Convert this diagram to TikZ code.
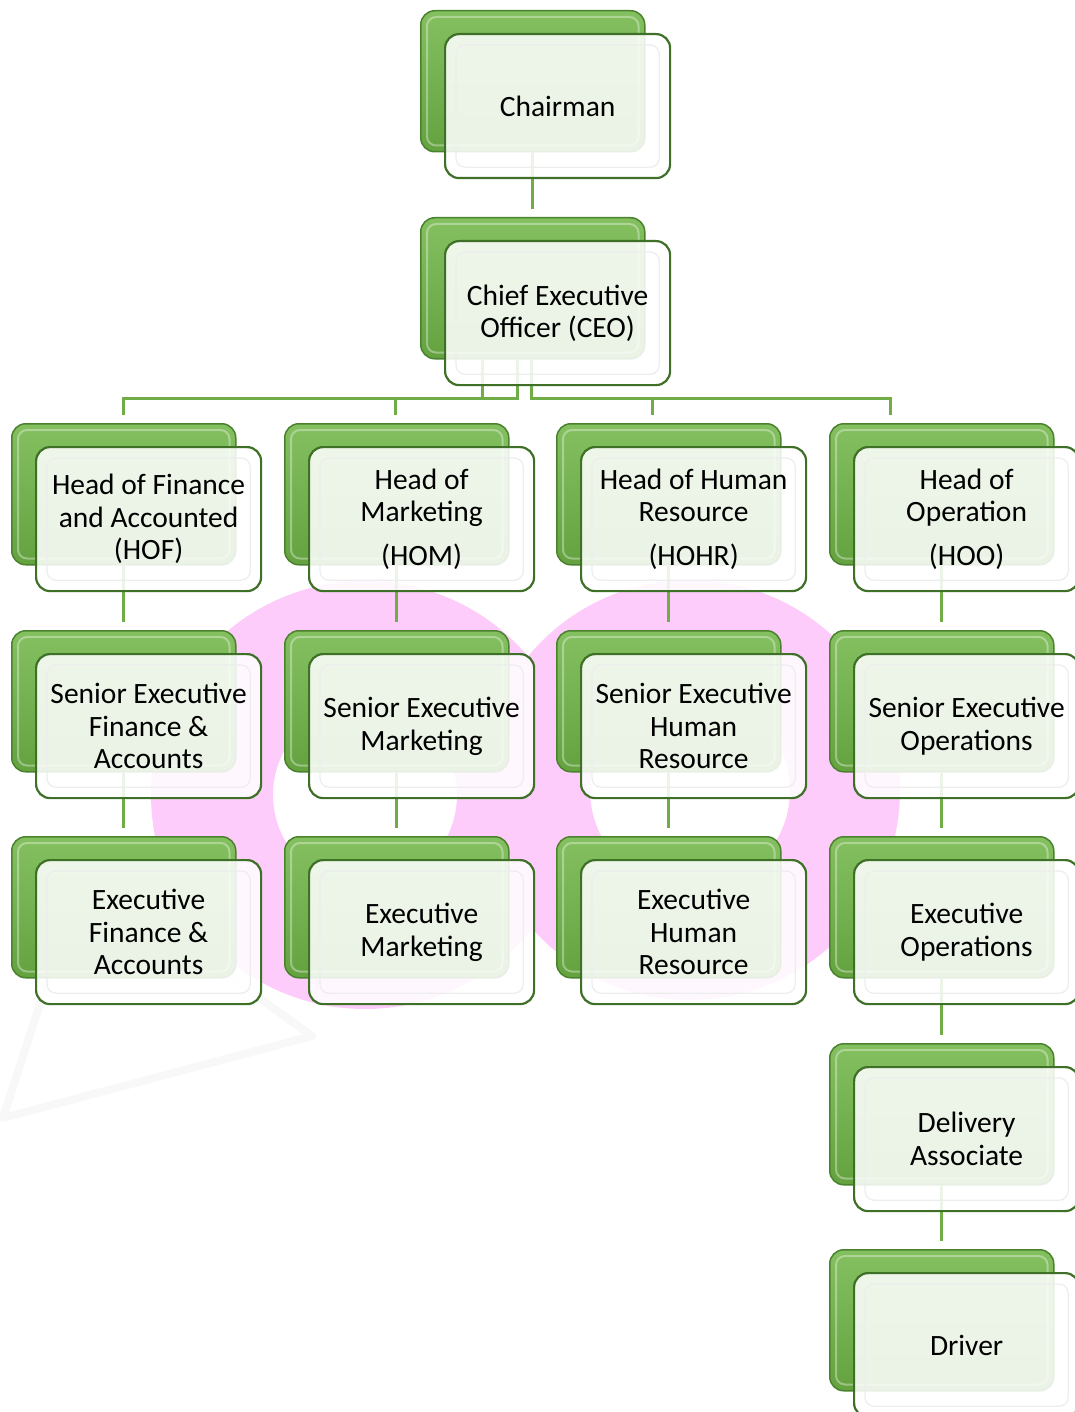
\documentclass[tikz,border=0pt]{standalone}
\usepackage{fontspec}
\setmainfont{Carlito}
\usetikzlibrary{calc}
\definecolor{conn}{RGB}{112,173,71}
\definecolor{backtop}{RGB}{132,192,96}
\definecolor{backbot}{RGB}{100,162,64}
\definecolor{backline}{RGB}{74,130,46}
\definecolor{frontline}{RGB}{62,112,40}
\definecolor{wmpink}{RGB}{253,204,250}
\definecolor{wmgray}{RGB}{248,248,248}
\tikzset{
  backbox/.style={draw=backline, line width=1.5pt, rounded corners=14pt,
    top color=backtop, bottom color=backbot, minimum width=224pt,
    minimum height=141pt, anchor=north west, inner sep=0pt},
  backhi/.style={draw=white, draw opacity=0.35, line width=2pt, rounded corners=9pt},
  frontbox/.style={draw=frontline, line width=2.2pt, rounded corners=14pt,
    fill=white, fill opacity=0.87, text opacity=1, minimum width=225pt,
    minimum height=144pt, anchor=north west, align=center, inner sep=0pt,
    font=\fontsize{29.5}{32.5}\selectfont},
  bevel/.style={draw=black!7, line width=1.2pt, rounded corners=9pt},
  link/.style={draw=conn, line width=3pt},
}
\newcommand\orgback[3]{%
  \node[backbox] (#1B) at (#2,#3) {};
  \draw[backhi] ([shift={(7pt,-7pt)}]#1B.north west) rectangle ([shift={(-7pt,7pt)}]#1B.south east);
}
\newcommand\orgfront[4]{%
  \node[frontbox] (#1F) at (#2+24,#3+23) {#4};
  \draw[bevel] ([shift={(12pt,-12pt)}]#1F.north west) rectangle ([shift={(-12pt,12pt)}]#1F.south east);
}
\begin{document}
\begin{tikzpicture}[x=1pt,y=-1pt]
\useasboundingbox (0,0) rectangle (1075,1412);
% watermark
\fill[wmpink, even odd rule] (365,795) circle (214) (365,795) circle (92);
\fill[wmpink, even odd rule] (690,790) circle (210) (690,790) circle (100);
\draw[wmgray, line width=8pt, line join=round] (3,1118) -- (312,1036) -- (83,871) -- cycle;
% back boxes
\orgback{ch}{420}{10}
\orgback{ceo}{420}{217}
\orgback{ha}{11}{423}
\orgback{hb}{284}{423}
\orgback{hc}{556}{423}
\orgback{hd}{829}{423}
\orgback{sa}{11}{630}
\orgback{sb}{284}{630}
\orgback{sc}{556}{630}
\orgback{sd}{829}{630}
\orgback{ea}{11}{836}
\orgback{eb}{284}{836}
\orgback{ec}{556}{836}
\orgback{ed}{829}{836}
\orgback{da}{829}{1043}
\orgback{dr}{829}{1249}
% connectors
\draw[link] (chB.south) -- ([yshift=8pt]ceoB.north);
\draw[link] ([xshift=-50.5pt]ceoB.south) -- ++(0,39) -| ([yshift=8pt]haB.north);
\draw[link] ([xshift=-15.5pt]ceoB.south) -- ++(0,39) -| ([shift={(-1pt,8pt)}]hbB.north);
\draw[link] ([xshift=-1.5pt]ceoB.south) -- ++(0,39) -| ([shift={(-16.5pt,8pt)}]hcB.north);
\draw[link] ([xshift=-1.5pt]ceoB.south) -- ++(0,39) -| ([shift={(-51.5pt,8pt)}]hdB.north);
\foreach \c in {a,b,c,d}{
  \draw[link] (h\c B.south) -- ([yshift=8pt]s\c B.north);
  \draw[link] (s\c B.south) -- ([yshift=8pt]e\c B.north);
}
\draw[link] (edB.south) -- ([yshift=8pt]daB.north);
\draw[link] (daB.south) -- ([yshift=8pt]drB.north);
% front boxes
\orgfront{ch}{420}{10}{Chairman}
\orgfront{ceo}{420}{217}{Chief Executive\\Officer (CEO)}
\orgfront{ha}{11}{423}{Head of Finance\\and Accounted\\(HOF)}
\orgfront{hb}{284}{423}{Head of\\Marketing\\[11pt](HOM)}
\orgfront{hc}{556}{423}{Head of Human\\Resource\\[11pt](HOHR)}
\orgfront{hd}{829}{423}{Head of\\Operation\\[11pt](HOO)}
\orgfront{sa}{11}{630}{Senior Executive\\Finance \&\\Accounts}
\orgfront{sb}{284}{630}{Senior Executive\\Marketing}
\orgfront{sc}{556}{630}{Senior Executive\\Human\\Resource}
\orgfront{sd}{829}{630}{Senior Executive\\Operations}
\orgfront{ea}{11}{836}{Executive\\Finance \&\\Accounts}
\orgfront{eb}{284}{836}{Executive\\Marketing}
\orgfront{ec}{556}{836}{Executive\\Human\\Resource}
\orgfront{ed}{829}{836}{Executive\\Operations}
\orgfront{da}{829}{1043}{Delivery\\Associate}
\orgfront{dr}{829}{1249}{Driver}
\end{tikzpicture}
\end{document}
